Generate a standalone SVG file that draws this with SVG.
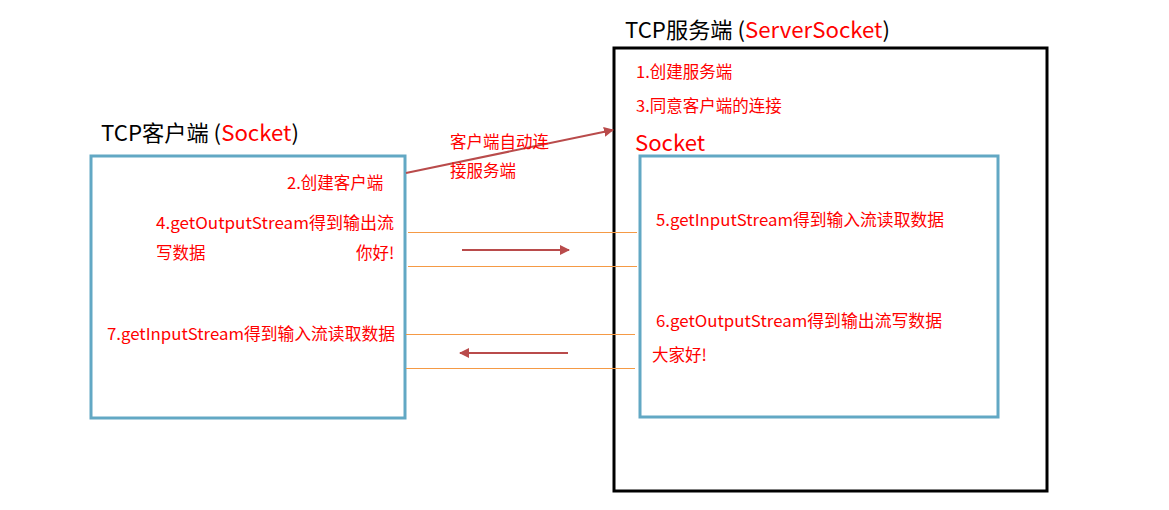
<svg xmlns="http://www.w3.org/2000/svg" width="1169" height="510" viewBox="0 0 1169 510">
<defs>
<style>
.t{font-family:"Noto Sans CJK SC","Noto Sans",sans-serif;}
.title{font-size:21.5px;fill:#000;}
.red{fill:#ff0000;}
.lbl{font-size:16.5px;fill:#ff0000;}
.box{fill:none;stroke:#62a8c4;stroke-width:3;}
.ol{stroke:#f59a45;stroke-width:1;}
.ar{stroke:#b94b4b;stroke-width:2;fill:none;}
</style>
<marker id="ah" viewBox="0 0 10 10" refX="9" refY="5" markerWidth="5" markerHeight="5" orient="auto" markerUnits="strokeWidth">
<path d="M0,0 L10,5 L0,10 z" fill="#b94b4b"/>
</marker>
</defs>
<rect width="1169" height="510" fill="#ffffff"/>
<g id="server">
<rect x="614" y="48" width="433" height="443" fill="none" stroke="#000" stroke-width="3"/>
<text class="t title" x="625" y="38" textLength="265" lengthAdjust="spacingAndGlyphs">TCP服务端 (<tspan class="red">ServerSocket</tspan>)</text>
<text class="t lbl" x="636" y="78">1.创建服务端</text>
<text class="t lbl" x="636" y="112">3.同意客户端的连接</text>
</g>
<g id="server-socket">
<text class="t red" x="635" y="151" font-size="22" textLength="70" lengthAdjust="spacingAndGlyphs">Socket</text>
<rect class="box" x="640" y="156" width="358" height="261"/>
<text class="t lbl" x="656" y="226" textLength="288" lengthAdjust="spacingAndGlyphs">5.getInputStream得到输入流读取数据</text>
<text class="t lbl" x="656" y="327" textLength="286" lengthAdjust="spacingAndGlyphs">6.getOutputStream得到输出流写数据</text>
<text class="t lbl" x="652" y="361">大家好!</text>
</g>
<g id="client">
<text class="t title" x="101" y="141" textLength="198" lengthAdjust="spacingAndGlyphs">TCP客户端 (<tspan class="red">Socket</tspan>)</text>
<rect class="box" x="91" y="156" width="314" height="262"/>
<text class="t lbl" x="287" y="189">2.创建客户端</text>
<text class="t lbl" x="156" y="229" textLength="238" lengthAdjust="spacingAndGlyphs">4.getOutputStream得到输出流</text>
<text class="t lbl" x="156" y="259">写数据</text>
<text class="t lbl" x="356" y="259">你好!</text>
<text class="t lbl" x="107" y="340" textLength="288" lengthAdjust="spacingAndGlyphs">7.getInputStream得到输入流读取数据</text>
</g>
<g id="connectors">
<line class="ol" x1="408" y1="232.5" x2="637" y2="232.5"/>
<line class="ol" x1="408" y1="266.5" x2="637" y2="266.5"/>
<line class="ol" x1="406" y1="334.5" x2="635" y2="334.5"/>
<line class="ol" x1="406" y1="368.5" x2="635" y2="368.5"/>
<line class="ar" x1="462" y1="250" x2="569" y2="250" marker-end="url(#ah)"/>
<line class="ar" x1="568" y1="353" x2="460" y2="353" marker-end="url(#ah)"/>
<line class="ar" x1="406" y1="173" x2="613" y2="130" marker-end="url(#ah)"/>
<text class="t lbl" x="450" y="148">客户端自动连</text>
<text class="t lbl" x="450" y="177">接服务端</text>
</g>
</svg>
